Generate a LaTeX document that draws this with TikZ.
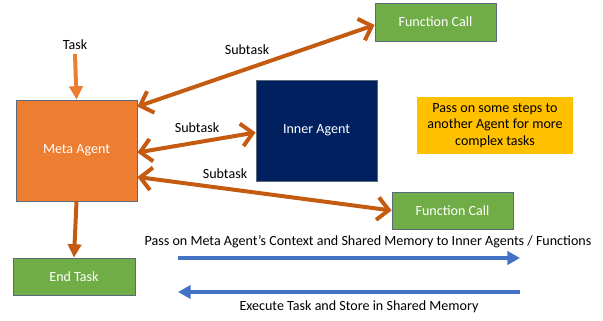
\documentclass[tikz,border=0pt]{standalone}
\usepackage{fontspec}
\setmainfont{Carlito}
\usetikzlibrary{arrows.meta,calc}
\definecolor{metaorange}{HTML}{ED7D31}
\definecolor{arrorange}{HTML}{C55A11}
\definecolor{fungreen}{HTML}{70AD47}
\definecolor{innerblue}{HTML}{002060}
\definecolor{noteyellow}{HTML}{FFC000}
\definecolor{flowblue}{HTML}{4472C4}
\definecolor{edgegray}{HTML}{5A6A7A}
\tikzset{
  box/.style={draw=edgegray,line width=0.7pt,text=white,align=center},
  subarrow/.style={arrorange,line width=3.4pt,{Straight Barb[length=3.4mm,width=6.8mm]}-{Straight Barb[length=3.4mm,width=6.8mm]}},
  downarrow/.style={line width=3.4pt,-{Triangle[length=4mm,width=4mm]}},
  flowarrow/.style={flowblue,line width=3pt,-{Triangle[length=3.8mm,width=4mm]}}
}
\begin{document}
\begin{tikzpicture}[x=0.03cm,y=-0.03cm,font=\fontsize{12}{14}\selectfont]
  \useasboundingbox (0,0) rectangle (603,321);
  \node[box,fill=metaorange,minimum width=3.63cm,minimum height=3.03cm](meta) at (76.5,150.5){Meta Agent};
  \node[box,fill=fungreen,minimum width=3.63cm,minimum height=1.14cm](fctop) at (435.5,22){Function Call};
  \node[box,fill=innerblue,minimum width=3.63cm,minimum height=3.03cm](inner) at (316.5,130.5){Inner Agent};
  \node[box,draw=none,fill=noteyellow,text=black,minimum width=4.68cm,minimum height=1.71cm](note) at (495,125.5){Pass on some steps to\\another Agent for more\\complex tasks};
  \node[box,fill=fungreen,minimum width=3.63cm,minimum height=1.11cm](fcbot) at (452.5,210.5){Function Call};
  \node[box,fill=fungreen,minimum width=3.66cm,minimum height=1.11cm](endtask) at (74,276.5){End Task};
  \node(task) at (75,45){Task};
  % orange connectors
  \draw[downarrow,metaorange](task.south)--(meta.north);
  \draw[downarrow,arrorange](meta.south)--(endtask.north);
  \draw[subarrow]($(meta.north east)+(0,7)$)--($(fctop.west)+(0,3)$);
  \draw[subarrow]($(meta.east)+(0,2)$)--($(inner.west)+(0,2)$);
  \draw[subarrow]($(meta.east)+(0,26.5)$)--(fcbot.west);
  \node(sub1) at (247,50){Subtask};
  \node(sub2) at (197,128){Subtask};
  \node(sub3) at (225,174){Subtask};
  % memory flow
  \coordinate(passL) at (178,258);
  \coordinate(passR) at (520,258);
  \coordinate(execL) at (178,292);
  \coordinate(execR) at (520,292);
  \draw[flowarrow](passL)--(passR);
  \draw[flowarrow](execR)--(execL);
  \node(passtext) at (368,242){Pass on Meta Agent’s Context and Shared Memory to Inner Agents / Functions};
  \node(exectext) at (359,307){Execute Task and Store in Shared Memory};
\end{tikzpicture}
\end{document}
